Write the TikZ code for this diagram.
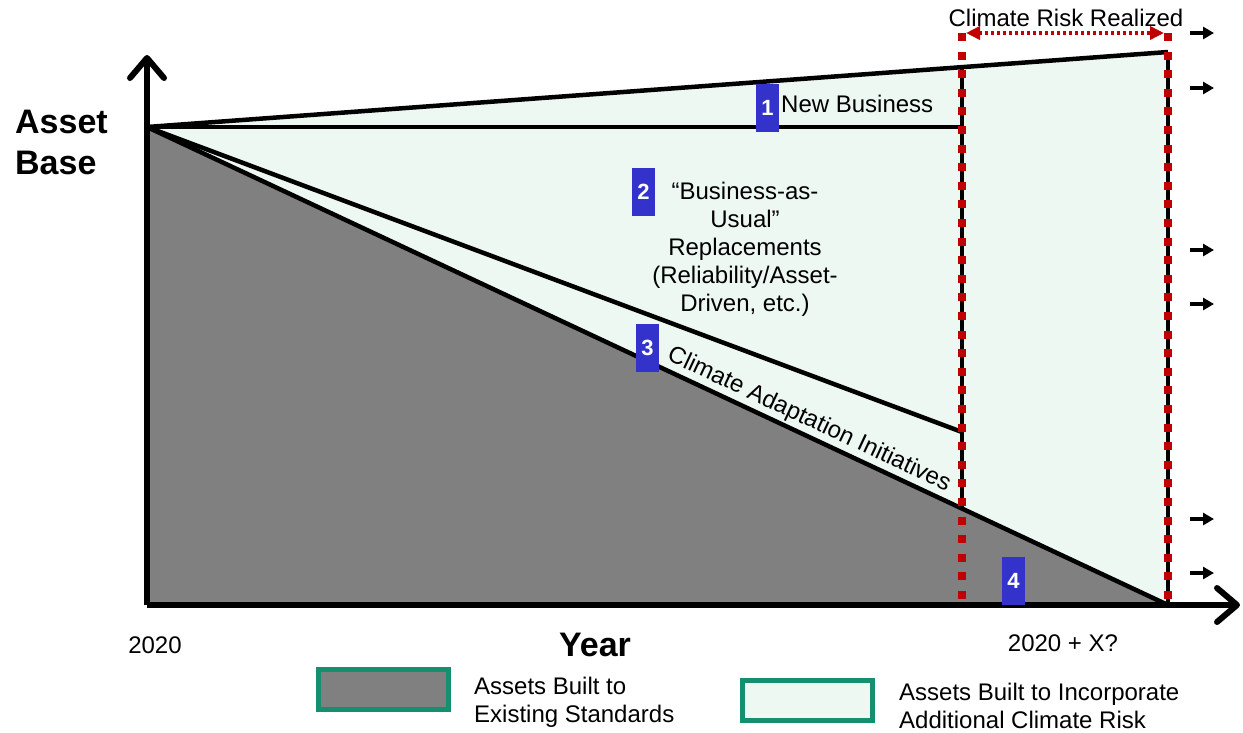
\documentclass[tikz,border=0pt]{standalone}
\usepackage{fontspec}
\setmainfont{Liberation Sans}
\usetikzlibrary{arrows.meta}
\definecolor{lightfill}{HTML}{EEF8F2}
\definecolor{grayfill}{HTML}{808080}
\definecolor{dred}{HTML}{C00000}
\definecolor{nbox}{HTML}{3333CC}
\definecolor{lgreen}{HTML}{149070}
\tikzset{
  numbox/.style={fill=nbox, text=white, font=\fontsize{22}{24}\selectfont\bfseries, minimum width=23pt, minimum height=48pt, inner sep=0pt},
  lbl/.style={font=\fontsize{24}{28}\selectfont, inner sep=0pt},
  big/.style={font=\fontsize{34}{41}\selectfont\bfseries, inner sep=0pt},
  blk/.style={line width=4.5pt, black},
  axis/.style={line width=6pt, black, -{Straight Barb[length=20pt,width=34pt,line cap=round,line join=round]}},
  reddot/.style={dred, line width=8pt, dash pattern=on 8pt off 10.6pt},
  smallarr/.style={line width=4pt, -{Triangle[length=11pt,width=12pt]}},
  legbox/.style={draw=lgreen, line width=5pt, minimum width=130pt, minimum height=40pt, inner sep=0pt}
}
\begin{document}
\begin{tikzpicture}[x=1pt,y=-1pt]
\useasboundingbox (0,0) rectangle (1243,732);
\coordinate (O) at (147,127);
\coordinate (T) at (1168,52);
\coordinate (E) at (1168,605);
\coordinate (B) at (147,605);
\coordinate (H) at (962,127);
\coordinate (U) at (962,432);
\coordinate (M) at (962,508.6);
\coordinate (TM) at (962,67.1);
\coordinate (YT) at (147,55);
\coordinate (XT) at (1240,605);
% fills
\fill[lightfill] (O) -- (T) -- (E) -- cycle;
\fill[grayfill] (O) -- (E) -- (B) -- cycle;
% lines
\draw[blk] (O) -- (T);
\draw[blk] (O) -- (H);
\draw[blk] (O) -- (U);
\draw[blk] (O) -- (E);
\draw[blk] (TM) -- (M);
\draw[blk] (T) -- (E);
% axes
\draw[axis] (B) -- (YT);
\draw[axis] (B) -- (XT);
% red dotted
\coordinate (R1t) at (962,33);
\coordinate (R1b) at (962,605);
\coordinate (R2t) at (1168,33);
\coordinate (R2b) at (1168,605);
\draw[reddot] (R1t) -- (R1b);
\draw[reddot] (R2t) -- (R2b);
\coordinate (RA1) at (966,33);
\coordinate (RA2) at (1164,33);
\draw[dred, line width=3.5pt, dash pattern=on 3pt off 3pt, {Triangle[length=14pt,width=13pt]}-{Triangle[length=14pt,width=13pt]}] (RA1) -- (RA2);
% small right arrows
\foreach \yy [count=\i] in {33,88,250,304,519,573} {
  \coordinate (sa\i) at (1190,\yy);
  \coordinate (sb\i) at (1214,\yy);
  \draw[smallarr] (sa\i) -- (sb\i);
}
% number boxes
\node[numbox] (n1) at (767.5,107.5) {1};
\node[numbox] (n2) at (643.5,192) {2};
\node[numbox] (n3) at (647.5,347.5) {3};
\node[numbox] (n4) at (1013.5,580.5) {4};
% labels
\node[lbl, anchor=west] (newb) at (781,104) {New Business};
\node[lbl, align=center] (bau) at (745,249) {“Business-as-\\Usual”\\Replacements\\(Reliability/Asset-\\Driven, etc.)};
\node[lbl, rotate=-25.1] (cai) at (809,420) {Climate Adaptation Initiatives};
\node[lbl] (crr) at (1066,18) {Climate Risk Realized};
\node[big, anchor=west, align=left] (ab) at (15,142) {Asset\\Base};
\node[big] (year) at (595,645) {Year};
\node[lbl] (y0) at (155,645) {2020};
\node[lbl] (yx) at (1063,643) {2020 + X?};
% legend
\node[legbox, fill=grayfill] (lg1) at (383.5,689.5) {};
\node[legbox, fill=lightfill] (lg2) at (807.5,700) {};
\node[lbl, anchor=west, align=left] (lt1) at (474,702) {Assets Built to\\Existing Standards};
\node[lbl, anchor=west, align=left] (lt2) at (899,706) {Assets Built to Incorporate\\Additional Climate Risk};
\end{tikzpicture}
\end{document}
